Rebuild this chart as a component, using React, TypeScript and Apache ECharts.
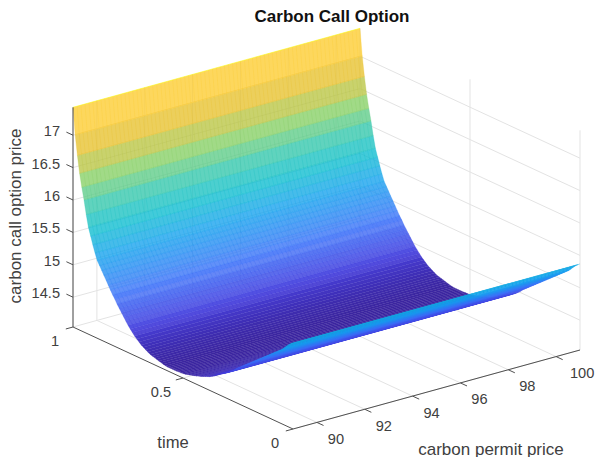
import React, { useEffect, useRef } from "react";
import * as echarts from "echarts";

const WIDTH = 597;
const HEIGHT = 457;

const timeTicks = [0, 0.5, 1];
const priceTicks = [90, 92, 94, 96, 98, 100];
const zTicks = [14.5, 15, 15.5, 16, 16.5, 17];
const zTickLabels = ["14.5", "15", "15.5", "16", "16.5", "17"];
const timeTickLabels = ["0", "0.5", "1"];
const priceTickLabels = ["90", "92", "94", "96", "98", "100"];

const priceRange = [89, 101];
const zRange = [14.04, 17.43];

const timeValues = [
  1, 0.99, 0.98, 0.97, 0.96, 0.95, 0.94, 0.93, 0.92, 0.91, 0.9, 0.89, 0.88, 0.87, 0.86, 0.85, 0.84, 0.83, 0.82, 0.81,
  0.8, 0.79, 0.78, 0.77, 0.76, 0.75, 0.74, 0.73, 0.72, 0.71, 0.7, 0.69, 0.68, 0.67, 0.66, 0.65, 0.64, 0.63, 0.62, 0.61,
  0.6, 0.59, 0.58, 0.57, 0.56, 0.55, 0.54, 0.53, 0.52, 0.51, 0.5, 0.49, 0.48, 0.47, 0.46, 0.45, 0.44, 0.43, 0.42, 0.41,
  0.4, 0.39, 0.38, 0.37, 0.36, 0.35, 0.34, 0.33, 0.32, 0.31, 0.3, 0.29, 0.28, 0.27, 0.26, 0.25, 0.24, 0.23, 0.22, 0.21,
  0.2, 0.19, 0.18, 0.17, 0.16, 0.15, 0.14, 0.13, 0.12, 0.11, 0.1, 0.09, 0.08, 0.07, 0.06, 0.05, 0.04, 0.03, 0.02, 0.01, 0,
];

const optionValues = [
  17.43, 17.02, 16.72, 16.46, 16.26, 16.08, 15.87, 15.69, 15.57, 15.45, 15.34, 15.24, 15.18, 15.12, 15.06, 15.0, 14.94, 14.88, 14.82, 14.77,
  14.71, 14.66, 14.61, 14.56, 14.51, 14.46, 14.42, 14.38, 14.34, 14.31, 14.28, 14.25, 14.23, 14.21, 14.19, 14.17, 14.16, 14.15, 14.14, 14.13,
  14.12, 14.11, 14.105, 14.1, 14.1, 14.1, 14.1, 14.1, 14.105, 14.105, 14.11, 14.115, 14.125, 14.135, 14.145, 14.155, 14.165, 14.18, 14.19, 14.205,
  14.22, 14.235, 14.25, 14.27, 14.29, 14.33, 14.35, 14.37, 14.39, 14.41, 14.44, 14.46, 14.49, 14.52, 14.56, 14.59, 14.62, 14.65, 14.68, 14.71,
  14.74, 14.77, 14.8, 14.83, 14.86, 14.89, 14.92, 14.95, 14.98, 15.01, 15.04, 15.07, 15.1, 15.13, 15.16, 15.19, 15.23, 15.27, 15.31, 15.34, 15.37,
];

const priceMesh = [
  89, 89.17, 89.33, 89.5, 89.67, 89.83, 90, 90.17, 90.33, 90.5, 90.67, 90.83, 91, 91.17, 91.33, 91.5, 91.67, 91.83,
  92, 92.17, 92.33, 92.5, 92.67, 92.83, 93, 93.17, 93.33, 93.5, 93.67, 93.83, 94, 94.17, 94.33, 94.5, 94.67, 94.83,
  95, 95.17, 95.33, 95.5, 95.67, 95.83, 96, 96.17, 96.33, 96.5, 96.67, 96.83, 97, 97.17, 97.33, 97.5, 97.67, 97.83,
  98, 98.17, 98.33, 98.5, 98.67, 98.83, 99, 99.17, 99.33, 99.5, 99.67, 99.83, 100, 100.17, 100.33, 100.5, 100.67, 100.83, 101,
];

const parulaStops: number[][] = [
  [0.0, 60, 38, 160],
  [0.09, 68, 62, 222],
  [0.2, 58, 110, 248],
  [0.34, 20, 160, 238],
  [0.45, 12, 190, 205],
  [0.55, 60, 200, 165],
  [0.65, 135, 208, 100],
  [0.75, 222, 189, 45],
  [0.875, 253, 203, 48],
  [1.0, 249, 251, 14],
];

function parula(v: number): [number, number, number] {
  const u = Math.max(0, Math.min(1, v));
  for (let i = 1; i < parulaStops.length; i++) {
    if (u <= parulaStops[i][0]) {
      const a = parulaStops[i - 1];
      const b = parulaStops[i];
      const f = (u - a[0]) / (b[0] - a[0]);
      return [a[1] + (b[1] - a[1]) * f, a[2] + (b[2] - a[2]) * f, a[3] + (b[3] - a[3]) * f];
    }
  }
  return [249, 251, 14];
}

function project(p: number, t: number, z: number): [number, number] {
  const dp = p - priceRange[0];
  const dz = z - zRange[0];
  return [293 + dp * (287 / 12) - 220 * t, 429 - dp * (79 / 12) - 102 * t - dz * 64.8];
}

const FONT = "'Liberation Sans', Arial, sans-serif";
const INK = "#404040";
const GRID = "#e3e3e3";

function seg(a: [number, number], b: [number, number], stroke: string, lineWidth = 1) {
  return {
    type: "line",
    silent: true,
    shape: { x1: a[0], y1: a[1], x2: b[0], y2: b[1] },
    style: { stroke, lineWidth, fill: "none" },
  };
}

function label(text: string, x: number, y: number, fontSize: number, extra: any = {}) {
  const { rotation, ...style } = extra;
  return {
    type: "text",
    silent: true,
    x,
    y,
    rotation: rotation || 0,
    style: {
      text,
      x: 0,
      y: 0,
      fill: INK,
      fontFamily: FONT,
      fontSize,
      textAlign: "center",
      textVerticalAlign: "middle",
      ...style,
    },
  };
}

export default function App() {
  const ref = useRef<HTMLDivElement>(null);
  useEffect(() => {
    document.body.style.margin = "0";
    const chart = echarts.init(ref.current!, undefined, { renderer: "svg", width: WIDTH, height: HEIGHT });
    const [pMin, pMax] = priceRange;
    const [zMin, zMax] = zRange;
    const cLow = 14.1;

    const gridRender = () => {
      const children: any[] = [];
      priceTicks.forEach((p) => children.push(seg(project(p, 0, zMin), project(p, 1, zMin), GRID)));
      timeTicks.forEach((t) => children.push(seg(project(pMin, t, zMin), project(pMax, t, zMin), GRID)));
      zTicks.forEach((z) => children.push(seg(project(pMin, 1, z), project(pMax, 1, z), GRID)));
      priceTicks.forEach((p) => children.push(seg(project(p, 1, zMin), project(p, 1, zMax), GRID)));
      zTicks.forEach((z) => children.push(seg(project(pMax, 0, z), project(pMax, 1, z), GRID)));
      timeTicks.forEach((t) => children.push(seg(project(pMax, t, zMin), project(pMax, t, zMax), GRID)));
      return { type: "group", children };
    };

    const stripRender = (_: any, api: any) => {
      const i = api.value(0);
      const tA = timeValues[i];
      const tB = timeValues[i + 1];
      const zA = optionValues[i];
      const zB = optionValues[i + 1];
      const c = parula((zB - cLow) / (zMax - cLow)).map((v) => Math.round(v));
      const rgb = `${c[0]},${c[1]},${c[2]}`;
      // thin strips are dominated by their edges in the reference, so they read as more opaque
      const a = project(pMin, tA, zA);
      const b = project(pMin, tB, zB);
      const h = Math.abs(a[1] - b[1]);
      const alpha = h >= 5 ? 0.78 : Math.min(1, 0.78 + (5 - h) * 0.1);
      const children: any[] = [
        {
          type: "polygon",
          silent: true,
          shape: {
            points: [a, project(pMax, tA, zA), project(pMax, tB, zB), b],
          },
          style: { fill: `rgba(${rgb},${alpha})` },
        },
      ];
      priceMesh.forEach((p) => {
        children.push(seg(project(p, tA, zA), project(p, tB, zB), `rgba(${rgb},0.3)`, 0.9));
      });
      const e = parula((zA - cLow) / (zMax - cLow)).map((v) => Math.round(v));
      children.push(seg(a, project(pMax, tA, zA), `rgba(${e[0]},${e[1]},${e[2]},0.55)`, 1));
      return { type: "group", children };
    };

    const axesRender = () => {
      const children: any[] = [];
      children.push(seg(project(pMin, 1, zMin), project(pMin, 1, zMax), "#404040"));
      children.push(seg(project(pMin, 1, zMin), project(pMin, 0, zMin), "#505050"));
      children.push(seg(project(pMin, 0, zMin), project(pMax, 0, zMin), "#505050"));
      zTicks.forEach((z, i) => {
        const a = project(pMin, 1, z);
        children.push(seg(a, project(pMin, 1.03, z), "#505050"));
        children.push(label(zTickLabels[i], a[0] - 13, a[1] - 4, 14.6, { textAlign: "right" }));
      });
      timeTicks.forEach((t, i) => {
        const a = project(pMin, t, zMin);
        children.push(seg(a, project(pMin - 0.3, t, zMin), "#505050"));
        children.push(label(timeTickLabels[i], a[0] - (t === 0.5 ? 22 : 18), a[1] + 14, 14.6));
      });
      priceTicks.forEach((p, i) => {
        const a = project(p, 0, zMin);
        children.push(seg(a, project(p, -0.03, zMin), "#505050"));
        children.push(label(priceTickLabels[i], a[0] + 19 + (p === 100 ? 7 : 0), a[1] + 16.5, 14.6));
      });
      children.push(label("carbon call option price", 15, 216, 17, { rotation: Math.PI / 2 }));
      children.push(label("time", 173, 442, 16.6));
      children.push(label("carbon permit price", 491, 449, 17));
      return { type: "group", children };
    };

    chart.setOption({
      animation: false,
      title: {
        text: "Carbon Call Option",
        left: 327,
        top: 3,
        textAlign: "center",
        textStyle: { fontFamily: FONT, fontSize: 17, fontWeight: "bold", color: "#111" },
      },
      series: [
        { type: "custom", coordinateSystem: "none", silent: true, z: 1, data: [[0]], renderItem: gridRender },
        {
          type: "custom",
          coordinateSystem: "none",
          silent: true,
          z: 2,
          data: timeValues.slice(0, -1).map((_, i) => [i]),
          renderItem: stripRender,
          progressive: 0,
        },
        { type: "custom", coordinateSystem: "none", silent: true, z: 3, data: [[0]], renderItem: axesRender },
      ],
    });
    return () => chart.dispose();
  }, []);
  return <div ref={ref} style={{ position: "absolute", left: 0, top: 0, width: WIDTH, height: HEIGHT }} />;
}
